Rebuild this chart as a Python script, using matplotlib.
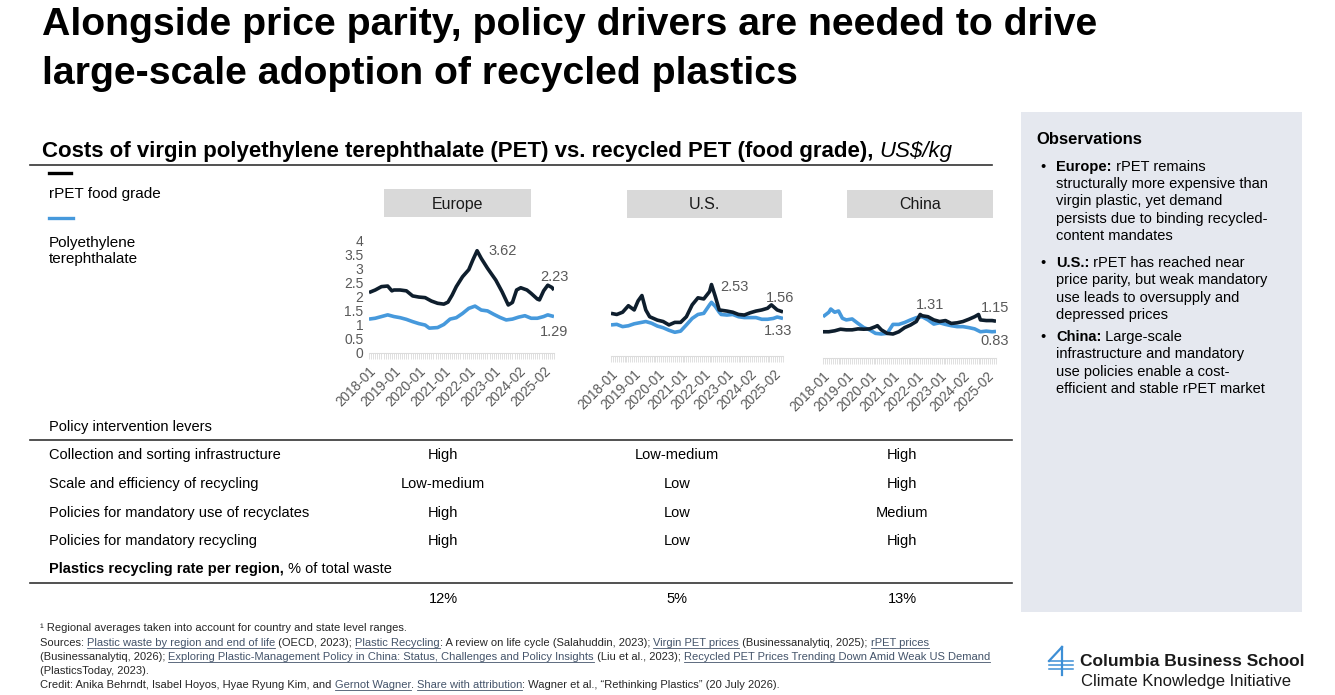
import matplotlib
matplotlib.use("Agg")
import matplotlib.pyplot as plt
from matplotlib.font_manager import FontProperties
from matplotlib.lines import Line2D
from matplotlib.patches import Rectangle

W, H = 1335, 695
plt.rcParams['font.family'] = ['Liberation Sans', 'DejaVu Sans']

# ---- data (monthly category index, US$/kg) ----
tick_pos = [0, 12, 24, 36, 48, 60, 72, 84]
tick_labels = ["2018-01", "2019-01", "2020-01", "2021-01",
               "2022-01", "2023-01", "2024-02", "2025-02"]
n_months = 90

eu_rpet_idx = [0, 3, 6, 9, 11, 12, 15, 18, 21, 24, 27, 30, 33, 36, 38, 40, 42, 45,
               48, 50, 52, 54, 57, 61, 64, 67, 69, 71, 73, 76, 78, 81, 82, 84, 86, 88, 89]
eu_rpet = [2.14, 2.23, 2.35, 2.37, 2.2, 2.23, 2.23, 2.2, 2.02, 1.98, 1.96, 1.84, 1.76,
           1.73, 1.8, 2.05, 2.35, 2.7, 2.95, 3.3, 3.62, 3.35, 3.0, 2.58, 2.17, 1.7,
           1.79, 2.23, 2.31, 2.23, 2.11, 1.91, 1.88, 2.2, 2.4, 2.32, 2.23]
eu_pet_idx = [0, 3, 6, 9, 12, 15, 18, 21, 24, 27, 29, 33, 36, 39, 42, 45, 48, 51, 54,
              57, 60, 63, 66, 69, 72, 75, 78, 81, 84, 86, 89]
eu_pet = [1.2, 1.23, 1.29, 1.35, 1.29, 1.25, 1.19, 1.11, 1.04, 0.99, 0.88, 0.9, 1.01,
          1.2, 1.25, 1.4, 1.58, 1.66, 1.52, 1.49, 1.37, 1.26, 1.17, 1.2, 1.27, 1.32,
          1.23, 1.23, 1.29, 1.35, 1.29]

us_rpet_idx = [0, 3, 6, 9, 12, 14, 16, 18, 20, 24, 27, 30, 33, 36, 39, 42, 45, 48,
               51, 52, 54, 56, 60, 63, 66, 69, 72, 75, 78, 81, 83, 86, 89]
us_rpet = [1.51, 1.47, 1.55, 1.78, 1.63, 1.95, 2.14, 1.63, 1.39, 1.27, 1.22, 1.1, 1.19,
           1.19, 1.39, 1.81, 2.06, 2.02, 2.28, 2.53, 2.1, 1.63, 1.59, 1.55, 1.47, 1.45,
           1.53, 1.59, 1.63, 1.69, 1.81, 1.63, 1.56]
us_pet_idx = [0, 3, 6, 9, 12, 15, 18, 21, 24, 27, 30, 33, 36, 39, 42, 45, 48, 51, 52,
              54, 56, 57, 60, 63, 66, 69, 72, 75, 78, 81, 84, 86, 89]
us_pet = [1.1, 1.12, 1.04, 1.07, 1.14, 1.18, 1.22, 1.16, 1.06, 1.0, 0.91, 0.84, 0.88,
          1.1, 1.33, 1.47, 1.51, 1.81, 1.9, 1.75, 1.55, 1.47, 1.45, 1.47, 1.39, 1.36,
          1.36, 1.36, 1.3, 1.3, 1.33, 1.38, 1.33]

cn_rpet_idx = [0, 3, 6, 9, 12, 15, 18, 21, 24, 27, 28, 30, 33, 36, 39, 42, 45, 48,
               50, 51, 54, 57, 60, 63, 66, 69, 72, 75, 78, 80, 81, 84, 87, 89]
cn_rpet = [0.82, 0.82, 0.85, 0.9, 0.88, 0.88, 0.91, 0.9, 0.91, 0.98, 1.01, 0.88, 0.77,
           0.75, 0.82, 0.95, 1.03, 1.14, 1.36, 1.32, 1.29, 1.19, 1.14, 1.17, 1.08, 1.1,
           1.14, 1.21, 1.29, 1.36, 1.19, 1.17, 1.17, 1.15]
cn_pet_idx = [0, 3, 4, 6, 8, 10, 12, 15, 18, 21, 24, 27, 30, 33, 36, 39, 42, 45, 48,
              51, 54, 57, 60, 63, 66, 69, 72, 75, 78, 81, 84, 87, 89]
cn_pet = [1.29, 1.43, 1.53, 1.43, 1.47, 1.24, 1.19, 1.22, 1.08, 0.95, 0.88, 0.77, 0.75,
          0.77, 1.05, 1.05, 1.11, 1.19, 1.26, 1.29, 1.19, 1.06, 1.1, 1.05, 1.01, 0.98,
          0.98, 0.95, 0.91, 0.82, 0.84, 0.82, 0.83]

regions = ["Europe", "U.S.", "China"]
levers = ["Collection and sorting infrastructure", "Scale and efficiency of recycling",
          "Policies for mandatory use of recyclates", "Policies for mandatory recycling"]
lever_values = [["High", "Low-medium", "High"],
                ["Low-medium", "Low", "High"],
                ["High", "Low", "Medium"],
                ["High", "Low", "High"]]
recycling_rate = ["12%", "5%", "13%"]

BLACK = "#0e1e2d"
BLUE = "#4699dc"
GRAY = "#595959"
LINK = "#44546a"

fig = plt.figure(figsize=(W / 100, H / 100), dpi=100)
renderer = fig.canvas.get_renderer()


def fx(x):
    return x / W


def fy(y):
    return 1 - y / H


def text_w(s, prop):
    w1 = renderer.get_text_width_height_descent("|" + s + "|", prop, ismath=False)[0]
    w0 = renderer.get_text_width_height_descent("||", prop, ismath=False)[0]
    return w1 - w0


def runs(x, y, parts, size, family=None):
    # parts: (text, weight, style, color, underline)
    fam = family or ['Liberation Sans', 'DejaVu Sans']
    for s, weight, style, color, ul in parts:
        prop = FontProperties(family=fam, size=size, weight=weight, style=style)
        fig.text(fx(x), fy(y), s, fontproperties=prop, color=color, va='baseline', ha='left')
        w = text_w(s, prop)
        if ul:
            fig.add_artist(Line2D([fx(x), fx(x + w)], [fy(y + 1.6), fy(y + 1.6)],
                                  color=color, lw=0.6))
        x += w


# ---- title ----
fig.text(fx(42), fy(35), "Alongside price parity, policy drivers are needed to drive",
         fontsize=28.3, fontweight='bold', color='black', va='baseline')
fig.text(fx(42), fy(84), "large-scale adoption of recycled plastics",
         fontsize=28.3, fontweight='bold', color='black', va='baseline')

# ---- subtitle ----
runs(42, 157, [("Costs of virgin polyethylene terephthalate (PET) vs. recycled PET (food grade), ",
                'bold', 'normal', 'black', False),
               ("US$/kg", 'normal', 'italic', 'black', False)], 16)
fig.add_artist(Line2D([fx(30), fx(992)], [fy(165), fy(165)], color='#333333', lw=1.2))

# ---- legend ----
fig.add_artist(Line2D([fx(49), fx(71)], [fy(172.5), fy(172.5)], color='black', lw=2.4))
fig.text(fx(49), fy(198), "rPET food grade", fontsize=11, va='baseline')
fig.add_artist(Line2D([fx(49), fx(73)], [fy(218.5), fy(218.5)], color=BLUE, lw=2.4))
fig.text(fx(49), fy(247), "Polyethylene", fontsize=11, va='baseline')
fig.text(fx(49), fy(263.5), "terephthalate", fontsize=11, va='baseline')

# ---- region header boxes ----
boxes = [(384, 531, 189, 217), (627, 782, 190, 218), (847, 993, 190, 218)]
for name, (x0, x1, y0, y1) in zip(regions, boxes):
    fig.add_artist(Rectangle((fx(x0), fy(y1)), fx(x1 - x0), (y1 - y0) / H,
                             facecolor='#d9d9d9', edgecolor='none'))
    fig.text(fx((x0 + x1) / 2), fy((y0 + y1) / 2 + 1), name, fontsize=11.5,
             ha='center', va='center', color='#1a1a1a')

# ---- line charts ----
panels = [
    dict(box=(369, 554, 353), ymax=4.0, show_y=True,
         rpet=(eu_rpet_idx, eu_rpet), pet=(eu_pet_idx, eu_pet),
         labels=[(64.3, 3.61, "3.62"), (89, 2.7, "2.23"), (89, 0.74, "1.29")]),
    dict(box=(611, 783, 356), ymax=4.0, show_y=False,
         rpet=(us_rpet_idx, us_rpet), pet=(us_pet_idx, us_pet),
         labels=[(64.1, 2.43, "2.53"), (87.4, 2.06, "1.56"), (86.2, 0.88, "1.33")]),
    dict(box=(823, 996, 358), ymax=3.5, show_y=False,
         rpet=(cn_rpet_idx, cn_rpet), pet=(cn_pet_idx, cn_pet),
         labels=[(55.0, 1.66, "1.31"), (88.5, 1.56, "1.15"), (88.5, 0.53, "0.83")]),
]
for p in panels:
    x0, x1, yb = p['box']
    hpx = 113 if p['ymax'] == 4.0 else 112
    ax = fig.add_axes([fx(x0), fy(yb), fx(x1 - x0), hpx / H])
    ax.patch.set_alpha(0)
    ax.plot(p['pet'][0], p['pet'][1], color=BLUE, lw=2.6, solid_capstyle='butt')
    ax.plot(p['rpet'][0], p['rpet'][1], color=BLACK, lw=2.6, solid_capstyle='butt')
    ax.set_xlim(0, n_months - 1)
    ax.set_ylim(0, p['ymax'])
    for side in ['top', 'right', 'left']:
        ax.spines[side].set_visible(False)
    ax.spines['bottom'].set_color('#dcdcdc')
    ax.spines['bottom'].set_linewidth(0.8)
    ax.set_xticks(tick_pos)
    ax.set_xticklabels(tick_labels, rotation=45, ha='right', rotation_mode='anchor',
                       fontsize=9.8, color=GRAY)
    ax.set_xticks(range(n_months), minor=True)
    ax.tick_params(axis='x', which='both', length=4, width=0.6, color='#dadada', pad=4)
    if p['show_y']:
        ax.set_yticks([0, 0.5, 1, 1.5, 2, 2.5, 3, 3.5, 4])
        ax.set_yticklabels(["0", "0.5", "1", "1.5", "2", "2.5", "3", "3.5", "4"],
                           fontsize=10, color=GRAY)
        ax.tick_params(axis='y', length=0, pad=4)
    else:
        ax.set_yticks([])
    for lx, ly, s in p['labels']:
        ax.text(lx, ly, s, fontsize=10.5, color=GRAY, ha='center', va='center', clip_on=False)

# ---- policy table ----
col_x = [443, 677, 902]
fig.text(fx(49), fy(431), "Policy intervention levers", fontsize=10.5, va='baseline')
fig.add_artist(Line2D([fx(30), fx(1012)], [fy(440), fy(440)], color='#333333', lw=1.2))
row_base = [459, 488, 517, 545]
for lever, vals, yb in zip(levers, lever_values, row_base):
    fig.text(fx(49), fy(yb), lever, fontsize=10.5, va='baseline')
    for cx, v in zip(col_x, vals):
        fig.text(fx(cx), fy(yb), v, fontsize=10.5, va='baseline', ha='center')
runs(49, 573, [("Plastics recycling rate per region,", 'bold', 'normal', 'black', False),
               (" % of total waste", 'normal', 'normal', 'black', False)], 10.5)
fig.add_artist(Line2D([fx(30), fx(1012)], [fy(583), fy(583)], color='#333333', lw=1.2))
for cx, v in zip(col_x, recycling_rate):
    fig.text(fx(cx), fy(603), v, fontsize=10.5, va='baseline', ha='center')

# ---- observations panel ----
fig.add_artist(Rectangle((fx(1021), fy(612)), fx(1302 - 1021), (612 - 112) / H,
                         facecolor='#e5e8ef', edgecolor='none'))
fig.text(fx(1036), fy(144.5), "Observations", fontsize=12, fontweight='bold', va='baseline')
obs = [
    ("Europe:", [" rPET remains", "structurally more expensive than", "virgin plastic, yet demand",
                 "persists due to binding recycled-", "content mandates"], 170.7),
    ("U.S.:", [" rPET has reached near", "price parity, but weak mandatory",
               "use leads to oversupply and", "depressed prices"], 266.7),
    ("China:", [" Large-scale", "infrastructure and mandatory", "use policies enable a cost-",
                "efficient and stable rPET market"], 341),
]
for head, lines, yb in obs:
    fig.text(fx(1040), fy(yb), "•", fontsize=10.5, va='baseline')
    runs(1056, yb, [(head, 'bold', 'normal', 'black', False),
                    (lines[0], 'normal', 'normal', 'black', False)], 10.5)
    for i, ln in enumerate(lines[1:], start=1):
        fig.text(fx(1056), fy(yb + 17.4 * i), ln, fontsize=10.5, va='baseline')

# ---- footnotes ----
narrow = ['Liberation Sans Narrow', 'Liberation Sans', 'DejaVu Sans']
fs = 8.0
N, U = 'normal', True
foot = [
    (631, [("¹ Regional averages taken into account for country and state level ranges.", N, N, '#262626', False)]),
    (646, [("Sources: ", N, N, '#262626', False),
           ("Plastic waste by region and end of life", N, N, LINK, U),
           (" (OECD, 2023); ", N, N, '#262626', False),
           ("Plastic Recycling", N, N, LINK, U),
           (": A review on life cycle (Salahuddin, 2023); ", N, N, '#262626', False),
           ("Virgin PET prices", N, N, LINK, U),
           (" (Businessanalytiq, 2025); ", N, N, '#262626', False),
           ("rPET prices", N, N, LINK, U)]),
    (660, [("(Businessanalytiq, 2026); ", N, N, '#262626', False),
           ("Exploring Plastic-Management Policy in China: Status, Challenges and Policy Insights", N, N, LINK, U),
           (" (Liu et al., 2023); ", N, N, '#262626', False),
           ("Recycled PET Prices Trending Down Amid Weak US Demand", N, N, LINK, U)]),
    (674, [("(PlasticsToday, 2023).", N, N, '#262626', False)]),
    (688, [("Credit: Anika Behrndt, Isabel Hoyos, Hyae Ryung Kim, and ", N, N, '#262626', False),
           ("Gernot Wagner", N, N, LINK, U),
           (". ", N, N, '#262626', False),
           ("Share with attribution", N, N, LINK, U),
           (": Wagner et al., \u201cRethinking Plastics\u201d (20 July 2026).", N, N, '#262626', False)]),
]
for yb, parts in foot:
    runs(40, yb, parts, fs, family=narrow)

# ---- logo ----
logo_blue = "#3d8fd6"
fig.add_artist(Line2D([fx(1062), fx(1062)], [fy(647), fy(675)], color=logo_blue, lw=1.6))
fig.add_artist(Line2D([fx(1062), fx(1049)], [fy(647), fy(661)], color=logo_blue, lw=1.6))
for yy in [661, 665, 669]:
    fig.add_artist(Line2D([fx(1049), fx(1073)], [fy(yy), fy(yy)], color=logo_blue, lw=1.1))
fig.text(fx(1080), fy(666), "Columbia Business School", fontsize=12.5, fontweight='bold',
         color='#1a1a1a', va='baseline')
fig.text(fx(1081), fy(686), "Climate Knowledge Initiative", fontsize=12,
         color='#1a1a1a', va='baseline')

fig.savefig("out.png", dpi=100)
